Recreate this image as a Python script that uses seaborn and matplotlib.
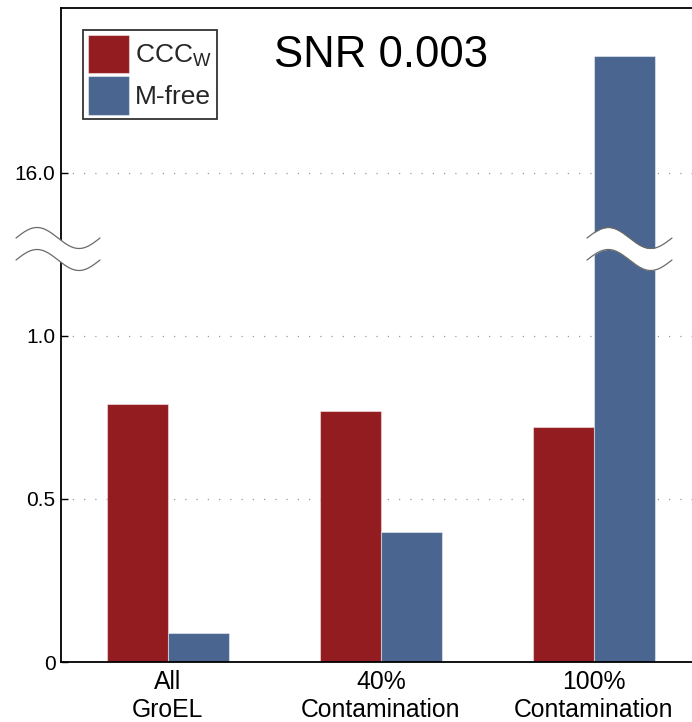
import numpy as np
import pandas as pd
import matplotlib
matplotlib.use("Agg")
import matplotlib.pyplot as plt
import seaborn as sns

# ---- data ----
categories = ["All\nGroEL", "40%\nContamination", "100%\nContamination"]
series_names = ["CCC$_\\mathregular{W}$", "M-free"]
ccc_w = [0.79, 0.77, 0.72]
m_free = [0.09, 0.40, 16.36]
ytick_values = [0, 0.5, 1.0, 16.0]
ytick_labels = ["0", "0.5", "1.0", "16.0"]
title_text = "SNR 0.003"

colors = ["#931C20", "#4A6690"]

df = pd.DataFrame({
    "category": categories * 2,
    "method": [series_names[0]] * 3 + [series_names[1]] * 3,
    "value": ccc_w + m_free,
})

sns.set_theme(style="white")
plt.rcParams["font.family"] = ["Liberation Sans", "DejaVu Sans"]
plt.rcParams["mathtext.fontset"] = "custom"
plt.rcParams["mathtext.rm"] = "Liberation Sans"

# broken y axis: values between BREAK_LO and BREAK_LO + GAP are collapsed
BREAK_LO = 1.26
GAP = 14.5


def fwd(v):
    v = np.asarray(v, dtype=float)
    return np.where(v <= BREAK_LO, v,
                    np.where(v >= BREAK_LO + GAP, v - GAP, BREAK_LO))


def inv(d):
    d = np.asarray(d, dtype=float)
    return np.where(d <= BREAK_LO, d, d + GAP)


fig = plt.figure(figsize=(6.92, 7.22), dpi=100)
ax = fig.add_axes([61 / 692, 60 / 722, 631 / 692, 654 / 722])
ax.set_yscale("function", functions=(fwd, inv))

sns.barplot(data=df, x="category", y="value", hue="method",
            palette=colors, width=0.573, saturation=1, ax=ax,
            edgecolor=(1, 1, 1, 0.45), linewidth=0.8, legend=True)

ax.set_xlim(-0.5, 2.46)
ax.set_ylim(0, GAP + 2.006)
ax.set_yticks(ytick_values)
ax.set_yticklabels(ytick_labels)
ax.minorticks_off()
ax.set_xlabel("")
ax.set_ylabel("")

# grid and spines
ax.set_axisbelow(True)
ax.yaxis.grid(True, linestyle=(0, (1, 8)), color="#9a9a9a", linewidth=0.9)
ax.xaxis.grid(False)
for side in ["left", "bottom", "top"]:
    ax.spines[side].set_visible(True)
    ax.spines[side].set_color("black")
    ax.spines[side].set_linewidth(1.3)
ax.spines["right"].set_visible(False)

ax.tick_params(axis="y", direction="in", length=5, width=1, color="black",
               labelsize=15, pad=4, left=True, labelcolor="black")
ax.tick_params(axis="x", length=0, labelsize=17.8, pad=6, labelcolor="black")

# title inside the axes
ax.text(0.507, 0.927, title_text, transform=ax.transAxes,
        ha="center", va="center", fontsize=31.5, color="black")

# legend
handles, labels = ax.get_legend_handles_labels()
leg = ax.legend(handles, labels, loc="upper left",
                bbox_to_anchor=(0.035, 0.966), fontsize=19,
                handlelength=1.55, handleheight=1.85, handletextpad=0.25,
                labelspacing=0.12, borderpad=0.18, borderaxespad=0,
                fancybox=False, framealpha=1, frameon=True)
leg.get_frame().set_edgecolor("#333333")
leg.get_frame().set_linewidth(1.3)


# axis-break marks (wavy white bands)
def break_mark(x0, x1, yc_hi, yc_lo, amp):
    t = np.linspace(0, 1, 200)
    xs = x0 + (x1 - x0) * t
    wave = amp * np.sin(2 * np.pi * t)
    y_hi = yc_hi + wave
    y_lo = yc_lo + wave
    ax.fill_between(xs, y_lo, y_hi, transform=ax.transAxes,
                    color="white", zorder=10, clip_on=False, linewidth=0)
    for ys in (y_hi, y_lo):
        ax.plot(xs, ys, transform=ax.transAxes, color="#6a6a6a",
                linewidth=0.9, zorder=11, clip_on=False)


yc_hi = (662 - 238) / 654
yc_lo = (662 - 260) / 654
amp = 10.5 / 654
break_mark((16 - 61) / 631, (100 - 61) / 631, yc_hi, yc_lo, amp)
break_mark((587 - 61) / 631, (672 - 61) / 631, yc_hi, yc_lo, amp)

fig.savefig("out.png", dpi=100, facecolor="white")
